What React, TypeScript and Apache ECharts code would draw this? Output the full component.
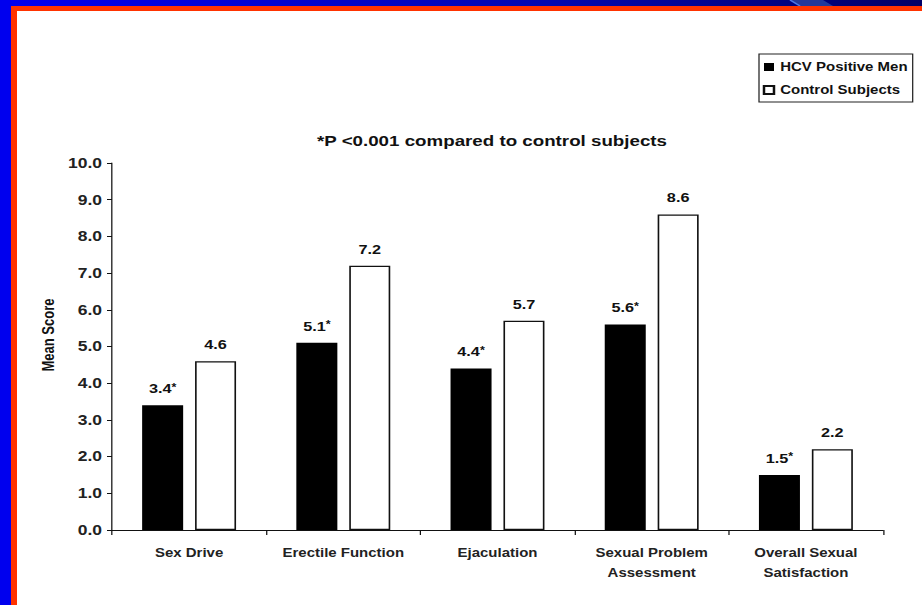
import React, { useEffect, useRef } from "react";
import * as echarts from "echarts";

const categories = [
  "Sex Drive",
  "Erectile Function",
  "Ejaculation",
  "Sexual Problem\nAssessment",
  "Overall Sexual\nSatisfaction",
];
const hcvValues = [3.4, 5.1, 4.4, 5.6, 1.5];
const controlValues = [4.6, 7.2, 5.7, 8.6, 2.2];
const seriesNames = ["HCV Positive Men", "Control Subjects"];
const titleText = "*P <0.001 compared to control subjects";
const yAxisName = "Mean Score";

const FONT = "'Liberation Sans', Arial, Helvetica, sans-serif";
const INNER_W = 738;
const H = 605;
const SCALE = 922 / INNER_W;
const sx = (x: number) => x / SCALE;

export default function App() {
  const ref = useRef<HTMLDivElement>(null);
  useEffect(() => {
    if (!ref.current) return;
    const chart = echarts.init(ref.current, null, { renderer: "svg" });
    chart.setOption({
      animation: false,
      backgroundColor: "#ffffff",
      title: {
        text: titleText,
        left: sx(492),
        top: 132,
        textAlign: "center",
        padding: 0,
        textStyle: { fontFamily: FONT, fontWeight: "bold", fontSize: 15, color: "#111", lineHeight: 18 },
      },
      legend: {
        data: seriesNames,
        orient: "vertical",
        left: sx(759),
        top: 54,
        padding: [6, 4, 5, 3],
        itemGap: 9,
        itemWidth: 8,
        itemHeight: 8,
        icon: "rect",
        borderColor: "#222",
        borderWidth: 1,
        textStyle: { fontFamily: FONT, fontWeight: "bold", fontSize: 12, color: "#111", lineHeight: 14 },
      },
      grid: { left: sx(112), right: INNER_W - sx(883), top: 163, bottom: 75, containLabel: false },
      xAxis: {
        type: "category",
        data: categories,
        axisLine: { show: true, lineStyle: { color: "#111", width: 1 } },
        axisTick: { show: true, length: 5, lineStyle: { color: "#111" } },
        axisLabel: {
          margin: 13,
          fontFamily: FONT,
          fontWeight: "bold",
          fontSize: 12,
          lineHeight: 20,
          color: "#222",
          interval: 0,
        },
      },
      yAxis: {
        type: "value",
        min: 0,
        max: 10,
        interval: 1,
        axisLine: { show: true, lineStyle: { color: "#111", width: 1 } },
        axisTick: { show: true, length: 4, lineStyle: { color: "#111" } },
        splitLine: { show: false },
        axisLabel: {
          margin: 8,
          fontFamily: FONT,
          fontWeight: "bold",
          fontSize: 14,
          color: "#222",
          formatter: (v: number) => v.toFixed(1),
        },
      },
      series: [
        {
          name: seriesNames[0],
          type: "bar",
          data: hcvValues,
          barWidth: "26.6%",
          barGap: "29%",
          itemStyle: { color: "#000000" },
          label: {
            show: true,
            position: "top",
            distance: 10,
            formatter: (p: any) => `{v|${Number(p.value).toFixed(1)}}{s|*}`,
            rich: {
              v: { fontFamily: FONT, fontWeight: "bold", fontSize: 13, color: "#111" },
              s: { fontFamily: FONT, fontWeight: "bold", fontSize: 10, color: "#111", verticalAlign: "top" },
            },
          },
        },
        {
          name: seriesNames[1],
          type: "bar",
          data: controlValues,
          barWidth: "26.6%",
          itemStyle: { color: "#ffffff", borderColor: "#111", borderWidth: 1.3 },
          label: {
            show: true,
            position: "top",
            distance: 10,
            fontFamily: FONT,
            fontWeight: "bold",
            fontSize: 13,
            color: "#111",
            formatter: (p: any) => Number(p.value).toFixed(1),
          },
        },
      ],
      graphic: [
        {
          type: "rect",
          shape: { x: 0, y: 0, width: INNER_W, height: 6 },
          style: {
            fill: new echarts.graphic.LinearGradient(0, 0, 1, 0, [
              { offset: 0, color: "#0000f0" },
              { offset: 0.6, color: "#0008b0" },
              { offset: 1, color: "#000066" },
            ]),
          },
          silent: true,
        },
        {
          type: "polygon",
          shape: { points: [[sx(790), 0], [sx(823), 0], [sx(833), 6], [sx(800), 6]] },
          style: { fill: "#22399a" },
          silent: true,
        },
        {
          type: "line",
          shape: { x1: sx(790), y1: 0, x2: sx(800), y2: 6 },
          style: { stroke: "#4a78e8", lineWidth: 1.5 },
          silent: true,
        },
        {
          type: "rect",
          shape: { x: 0, y: 0, width: sx(11), height: H },
          style: { fill: "#0000ee" },
          silent: true,
        },
        {
          type: "rect",
          shape: { x: sx(11), y: 6, width: INNER_W - sx(11), height: 5 },
          style: { fill: "#ff3300" },
          silent: true,
        },
        {
          type: "rect",
          shape: { x: sx(11), y: 6, width: sx(6), height: H - 6 },
          style: { fill: "#ff3300" },
          silent: true,
        },
        {
          type: "text",
          x: sx(48),
          y: 335,
          rotation: Math.PI / 2,
          style: {
            text: yAxisName,
            fontFamily: FONT,
            fontWeight: "bold",
            fontSize: 13,
            fill: "#111",
            align: "center",
            verticalAlign: "middle",
          },
          silent: true,
        },
      ],
    });
    return () => chart.dispose();
  }, []);
  return (
    <div style={{ position: "absolute", left: 0, top: 0, width: 922, height: H, overflow: "hidden", background: "#fff" }}>
      <div
        ref={ref}
        style={{ width: INNER_W, height: H, transform: `scaleX(${SCALE})`, transformOrigin: "0 0" }}
      />
    </div>
  );
}
